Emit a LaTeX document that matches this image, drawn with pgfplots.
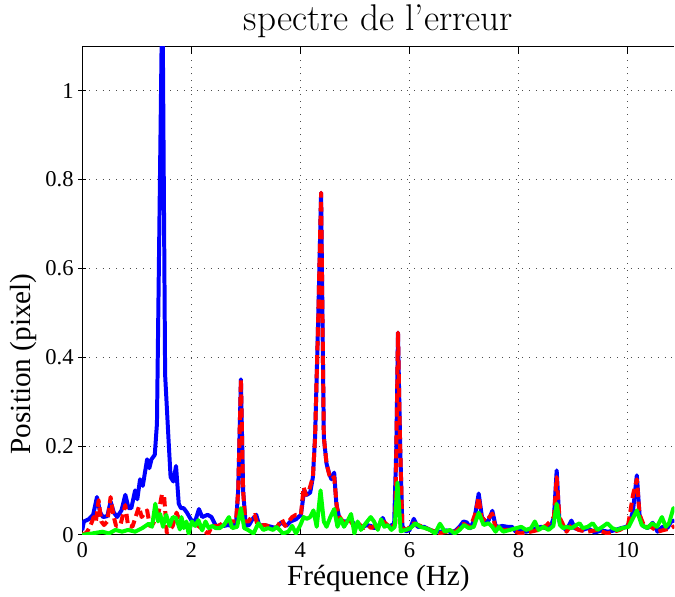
\documentclass[border={4pt 0pt 0pt 0pt}]{standalone}
\usepackage{fontspec}
\usepackage{pgfplots}
\pgfplotsset{compat=1.18}
\newfontfamily\timesfont{Liberation Serif}

\pgfplotstableread{
f v
0 0.01
0.03 0.03
0.12 0.035
0.2 0.045
0.27 0.085
0.33 0.05
0.38 0.04
0.46 0.042
0.52 0.075
0.58 0.05
0.64 0.04
0.72 0.055
0.79 0.09
0.85 0.06
0.9 0.06
0.97 0.10
1.01 0.08
1.06 0.125
1.11 0.11
1.19 0.17
1.23 0.15
1.27 0.17
1.33 0.18
1.37 0.25
1.42 0.75
1.47 1.25
1.52 0.36
1.58 0.22
1.62 0.13
1.67 0.12
1.72 0.155
1.77 0.07
1.81 0.06
1.86 0.06
1.92 0.05
2.0 0.033
2.07 0.03
2.14 0.058
2.2 0.04
2.3 0.045
2.37 0.04
2.46 0.018
2.53 0.022
2.6 0.02
2.67 0.022
2.74 0.02
2.82 0.025
2.86 0.1
2.91 0.35
2.95 0.1
3.0 0.02
3.06 0.022
3.12 0.035
3.19 0.045
3.25 0.02
3.33 0.022
3.4 0.02
3.47 0.018
3.55 0.015
3.65 0.028
3.74 0.02
3.82 0.03
3.92 0.035
4.01 0.045
4.07 0.10
4.12 0.09
4.18 0.095
4.23 0.13
4.27 0.22
4.33 0.5
4.38 0.77
4.43 0.22
4.48 0.16
4.53 0.137
4.57 0.125
4.62 0.14
4.66 0.07
4.71 0.04
4.77 0.03
4.85 0.03
4.93 0.035
5.0 0.02
5.07 0.022
5.15 0.018
5.22 0.022
5.29 0.02
5.36 0.015
5.44 0.02
5.51 0.038
5.57 0.02
5.65 0.02
5.72 0.025
5.76 0.2
5.79 0.455
5.83 0.2
5.87 0.02
5.93 0.008
6.0 0.01
6.08 0.036
6.15 0.018
6.27 0.018
6.4 0.01
6.48 0.007
6.6 0.007
6.68 0.01
6.77 0.005
6.85 0.01
6.93 0.02
6.99 0.03
7.05 0.028
7.12 0.015
7.19 0.035
7.27 0.093
7.33 0.04
7.39 0.03
7.45 0.032
7.52 0.054
7.58 0.02
7.64 0.018
7.7 0.02
7.8 0.018
7.88 0.018
7.95 0.007
8.05 0.01
8.14 0.007
8.23 0.01
8.32 0.015
8.42 0.018
8.5 0.015
8.58 0.015
8.65 0.04
8.70 0.145
8.75 0.03
8.81 0.018
8.88 0.01
8.97 0.032
9.03 0.015
9.15 0.01
9.27 0.015
9.4 0.005
9.52 0.01
9.64 0.007
9.76 0.01
9.88 0.015
9.98 0.018
10.05 0.03
10.1 0.055
10.17 0.134
10.22 0.045
10.28 0.02
10.37 0.015
10.46 0.027
10.55 0.007
10.64 0.018
10.73 0.015
10.8 0.03
10.86 0.032
}\bleu

\pgfplotstableread{
f v
0 0.0
0.08 0.005
0.15 0.02
0.21 0.04
0.25 0.03
0.3 0.078
0.35 0.03
0.4 0.022
0.46 0.03
0.52 0.085
0.57 0.045
0.62 0.02
0.7 0.022
0.79 0.067
0.84 0.02
0.92 0.018
1.04 0.063
1.09 0.04
1.19 0.055
1.24 0.02
1.3 0.025
1.4 0.05
1.46 0.09
1.5 0.09
1.55 0.005
1.6 0.01
1.66 0.02
1.73 0.05
1.79 0.03
1.9 0.02
2.0 0.025
2.13 0.02
2.31 0.002
2.38 0.02
2.5 0.02
2.62 0.03
2.72 0.03
2.82 0.03
2.86 0.1
2.91 0.35
2.95 0.1
2.99 0.03
3.05 0.03
3.1 0.04
3.16 0.045
3.22 0.02
3.35 0.022
3.56 0.015
3.66 0.035
3.72 0.02
3.85 0.04
3.92 0.045
4.01 0.045
4.06 0.107
4.1 0.09
4.16 0.1
4.23 0.13
4.27 0.22
4.33 0.5
4.38 0.77
4.43 0.22
4.48 0.16
4.53 0.135
4.57 0.125
4.62 0.13
4.67 0.06
4.72 0.04
4.78 0.03
4.86 0.025
4.93 0.03
5.0 0.015
5.07 0.025
5.15 0.015
5.25 0.02
5.3 0.015
5.38 0.022
5.45 0.025
5.52 0.03
5.6 0.022
5.69 0.018
5.74 0.025
5.76 0.2
5.79 0.455
5.83 0.2
5.87 0.015
5.95 0.011
6.08 0.026
6.2 0.02
6.38 0.011
6.55 0.003
6.68 0.007
6.85 0.007
6.99 0.025
7.05 0.02
7.12 0.018
7.21 0.048
7.27 0.085
7.32 0.04
7.4 0.03
7.52 0.048
7.58 0.015
7.7 0.011
7.85 0.011
8.03 0.003
8.22 0.007
8.37 0.011
8.52 0.022
8.65 0.04
8.70 0.13
8.75 0.04
8.88 0.007
8.97 0.022
9.1 0.011
9.27 0.007
9.45 0.011
9.63 0.003
9.86 0.011
10.01 0.022
10.1 0.09
10.17 0.125
10.22 0.045
10.31 0.018
10.43 0.018
10.55 0.007
10.67 0.011
10.8 0.015
10.86 0.02
}\rouge

\pgfplotstableread{
f v
0 0.0
0.18 0.003
0.37 0.007
0.49 0.003
0.61 0.011
0.73 0.007
0.84 0.011
0.97 0.007
1.1 0.015
1.22 0.025
1.28 0.018
1.34 0.07
1.39 0.03
1.43 0.047
1.48 0.018
1.54 0.045
1.6 0.02
1.66 0.04
1.72 0.038
1.79 0.012
1.82 0.04
1.86 0.015
1.91 0.03
1.95 0.003
2.01 0.03
2.07 0.02
2.13 0.033
2.2 0.01
2.26 0.03
2.32 0.015
2.38 0.02
2.45 0.015
2.52 0.015
2.6 0.022
2.69 0.04
2.75 0.015
2.84 0.018
2.91 0.06
2.97 0.015
3.04 0.011
3.14 0.003
3.23 0.026
3.32 0.011
3.41 0.015
3.5 0.011
3.56 0.018
3.62 0.011
3.68 0.003
3.78 0.007
3.85 0.02
3.92 0.003
4.0 0.022
4.06 0.04
4.12 0.036
4.18 0.04
4.24 0.055
4.3 0.018
4.37 0.10
4.43 0.03
4.48 0.018
4.55 0.04
4.62 0.058
4.68 0.018
4.74 0.036
4.8 0.018
4.86 0.03
4.93 0.047
4.99 0.003
5.05 0.03
5.11 0.011
5.2 0.026
5.29 0.04
5.35 0.03
5.42 0.011
5.48 0.035
5.54 0.018
5.6 0.022
5.67 0.011
5.73 0.018
5.78 0.118
5.84 0.008
5.93 0.011
6.02 0.015
6.11 0.026
6.2 0.018
6.29 0.015
6.38 0.011
6.47 0.003
6.56 0.025
6.65 0.007
6.74 0.011
6.83 0.003
6.92 0.011
7.0 0.022
7.09 0.015
7.18 0.018
7.27 0.05
7.36 0.022
7.45 0.026
7.52 0.018
7.58 0.007
7.64 0.018
7.72 0.007
7.84 0.011
7.96 0.015
8.05 0.018
8.14 0.011
8.23 0.015
8.3 0.03
8.37 0.011
8.46 0.018
8.55 0.011
8.64 0.02
8.70 0.07
8.76 0.022
8.82 0.015
8.88 0.018
8.97 0.015
9.06 0.022
9.12 0.026
9.18 0.015
9.27 0.018
9.36 0.026
9.45 0.011
9.54 0.018
9.63 0.026
9.72 0.015
9.81 0.011
9.9 0.015
10.02 0.018
10.17 0.055
10.26 0.022
10.36 0.015
10.45 0.026
10.54 0.018
10.63 0.04
10.7 0.018
10.76 0.026
10.84 0.06
10.86 0.055
}\vert

\begin{document}
\begin{tikzpicture}
\begin{axis}[
    scale only axis,
    width=446pt, height=368pt,
    xmin=0, xmax=10.86,
    ymin=0, ymax=1.1,
    xtick={0,2,4,6,8,10},
    ytick={0,0.2,0.4,0.6,0.8,1},
    minor y tick num=0,
    axis x line=box, axis y line=left,
    axis line style={-, line width=0.8pt},
    tick style={black, line width=0.6pt},
    major tick length=6pt,
    grid=major,
    major grid style={black!70, line width=0.6pt, dash pattern=on 0.6pt off 4.5pt},
    /pgf/number format/assume math mode=true,
    tick label style={font=\timesfont\fontsize{17}{20}\selectfont},
    xticklabel style={yshift=-2pt},
    label style={font=\timesfont\fontsize{22}{26}\selectfont},
    title style={font=\fontsize{28}{33}\selectfont, yshift=-3pt},
    title={spectre de l'erreur},
    xlabel={Fréquence (Hz)},
    ylabel={Position (pixel)},
    xlabel style={yshift=1pt},
    ylabel style={at={(ticklabel cs:0.35)}},
]
\addplot[blue, line width=3pt, line join=round] table[x=f, y=v] {\bleu};
\addplot[red, line width=3pt, line join=round, dash pattern=on 7pt off 3.5pt] table[x=f, y=v] {\rouge};
\addplot[green, line width=3pt, line join=round] table[x=f, y=v] {\vert};
\end{axis}
\end{tikzpicture}
\end{document}
